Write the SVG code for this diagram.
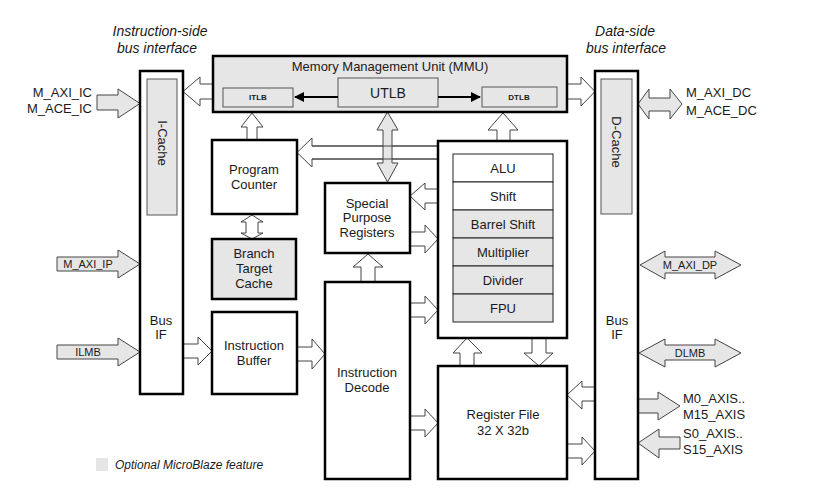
<svg xmlns="http://www.w3.org/2000/svg" width="832" height="494" viewBox="0 0 832 494">
<defs>
<style>
.box{fill:#fff;stroke:#000;stroke-width:2.5}
.gbox{fill:#e6e6e6;stroke:#000;stroke-width:2.5}
.inner{fill:#e6e6e6;stroke:#555;stroke-width:1}
.row{fill:#fff;stroke:#222;stroke-width:1}
.rowg{fill:#e6e6e6;stroke:#222;stroke-width:1}
.ha{fill:#fff;stroke:#444;stroke-width:1}
.ga{fill:#e6e6e6;stroke:#444;stroke-width:1}
text{font-family:"Liberation Sans",Arial,sans-serif;fill:#1a1a1a}
.t{font-size:13px;text-anchor:middle}
.s{font-size:11px}
.h{font-size:14px;font-style:italic;text-anchor:middle}
.b{font-size:8px;font-weight:bold;text-anchor:middle}
</style>
<marker id="ah" viewBox="0 0 10 10" refX="9" refY="5" markerWidth="5" markerHeight="5" orient="auto-start-reverse">
<path d="M0,0 L10,5 L0,10 z" fill="#000"/>
</marker>
</defs>
<rect width="832" height="494" fill="#fff"/>

<text class="h" x="160" y="36">Instruction-side</text>
<text class="h" x="157" y="53">bus interface</text>
<text class="h" x="625" y="36">Data-side</text>
<text class="h" x="626" y="53">bus interface</text>

<g id="connectors">
<polygon class="ha" points="213,84 200,84 200,77 183,91.5 200,106 200,99 213,99"/>
<polygon class="ga" points="97,95 118,95 118,89 140,103.5 118,118 118,110 97,110"/>
<polygon class="ha" points="247,140 247,127 241,127 252,113 263,127 257,127 257,140"/>
<polygon class="ha" points="497,141 497,130 488,130 503,113 518,130 510,130 510,141"/>
<polygon class="ha" points="438,146 312,146 312,138 297,152.5 312,167 312,159 438,159"/>
<polygon class="ga" points="383,130 377,130 387.5,112 398,130 392,130 392,163 398,163 387.5,182 377,163 383,163"/>
<line x1="312" y1="146" x2="438" y2="146" stroke="#444" stroke-width="1"/>
<line x1="312" y1="159" x2="438" y2="159" stroke="#444" stroke-width="1"/>
<polygon class="ha" points="246,222 241,222 252,215 263,222 258,222 258,233 263,233 252,239 241,233 246,233"/>
<polygon class="ha" points="183,344 198,344 198,337 212,351 198,365 198,358 183,358"/>
<polygon class="ga" points="57,257 118,257 118,250 140,264 118,278 118,271 57,271"/>
<polygon class="ga" points="57,345 118,345 118,338 140,352 118,366 118,359 57,359"/>
<polygon class="ha" points="297,347 312,347 312,339 325,354 312,369 312,361 297,361"/>
<polygon class="ha" points="438,189 425,189 425,183 410,196 425,210 425,203 438,203"/>
<polygon class="ha" points="410,232 425,232 425,225 438,239 425,253 425,246 410,246"/>
<polygon class="ha" points="361,282 361,267 353,267 368,254 383,267 375,267 375,282"/>
<polygon class="ha" points="410,303 425,303 425,296 438,310 425,324 425,317 410,317"/>
<polygon class="ha" points="410,416 425,416 425,409 438,423 425,437 425,430 410,430"/>
<polygon class="ha" points="460,366 460,353 453,353 467,338 482,353 474,353 474,366"/>
<polygon class="ha" points="532,338 532,353 524,353 539,366 553,353 546,353 546,338"/>
<polygon class="ha" points="595,387 582,387 582,381 567,395 582,409 582,401 595,401"/>
<polygon class="ha" points="567,444 582,444 582,437 595,451 582,465 582,458 567,458"/>
<polygon class="ha" points="567,84 581,84 581,77 595,91.5 581,106 581,99 567,99"/>
<polygon class="ga" points="649,98 670,98 670,89 682,104 670,119 670,111 649,111 649,119 638,104 649,89"/>
<polygon class="ga" points="665,257 715,257 715,251 741,265 715,279 715,273 665,273 665,279 640,265 665,251"/>
<polygon class="ga" points="665,345 715,345 715,339 741,353 715,367 715,360 665,360 665,367 639,353 665,339"/>
<polygon class="ga" points="638,399 658,399 658,392 680,406 658,420 658,413 638,413"/>
<polygon class="ga" points="680,437 659,437 659,429 638,443 659,458 659,449 680,449"/>
</g>

<g id="mmu">
<rect class="gbox" x="213" y="56" width="354" height="56"/>
<text class="t" x="390" y="71">Memory Management Unit (MMU)</text>
<rect class="inner" x="223" y="88" width="70" height="19"/>
<text class="b" x="258" y="100">ITLB</text>
<rect class="inner" x="338" y="78" width="100" height="29"/>
<text class="t" x="388" y="98" style="font-size:14px">UTLB</text>
<rect class="inner" x="482" y="87" width="75" height="20"/>
<text class="b" x="519" y="100">DTLB</text>
<line x1="338" y1="97" x2="295" y2="97" stroke="#000" stroke-width="2" marker-end="url(#ah)"/>
<line x1="438" y1="97" x2="480" y2="97" stroke="#000" stroke-width="2" marker-end="url(#ah)"/>
</g>

<g id="ibus">
<rect class="box" x="140" y="71" width="43" height="323"/>
<rect class="inner" x="147" y="79" width="30" height="136"/>
<text class="t" transform="translate(158,143) rotate(90)">I-Cache</text>
<text class="t" x="161" y="325">Bus</text>
<text class="t" x="161" y="339">IF</text>
</g>

<g id="dbus">
<rect class="box" x="595" y="71" width="43" height="408"/>
<rect class="inner" x="601" y="79" width="31" height="135"/>
<text class="t" transform="translate(612,142) rotate(90)">D-Cache</text>
<text class="t" x="617" y="325">Bus</text>
<text class="t" x="617" y="339">IF</text>
</g>

<g id="pc">
<rect class="box" x="212" y="140" width="85" height="74"/>
<text class="t" x="254" y="174">Program</text>
<text class="t" x="254" y="189">Counter</text>
</g>

<g id="btc">
<rect class="gbox" x="212" y="239" width="84" height="60"/>
<text class="t" x="254" y="258">Branch</text>
<text class="t" x="254" y="273">Target</text>
<text class="t" x="254" y="288">Cache</text>
</g>

<g id="ib">
<rect class="box" x="212" y="312" width="85" height="82"/>
<text class="t" x="254" y="350">Instruction</text>
<text class="t" x="254" y="365">Buffer</text>
</g>

<g id="spr">
<rect class="box" x="325" y="183" width="85" height="70"/>
<text class="t" x="367" y="208">Special</text>
<text class="t" x="367" y="222">Purpose</text>
<text class="t" x="367" y="237">Registers</text>
</g>

<g id="id">
<rect class="box" x="325" y="282" width="85" height="197"/>
<text class="t" x="367" y="377">Instruction</text>
<text class="t" x="367" y="392">Decode</text>
</g>

<g id="exec">
<rect class="box" x="438" y="141" width="129" height="197"/>
<rect class="row" x="453" y="154" width="100" height="28"/>
<rect class="row" x="453" y="182" width="100" height="28"/>
<rect class="rowg" x="453" y="210" width="100" height="28"/>
<rect class="rowg" x="453" y="238" width="100" height="28"/>
<rect class="rowg" x="453" y="266" width="100" height="28"/>
<rect class="rowg" x="453" y="294" width="100" height="28"/>
<text class="t" x="503" y="173">ALU</text>
<text class="t" x="503" y="201">Shift</text>
<text class="t" x="503" y="229">Barrel Shift</text>
<text class="t" x="503" y="257">Multiplier</text>
<text class="t" x="503" y="285">Divider</text>
<text class="t" x="503" y="313">FPU</text>
</g>

<g id="rf">
<rect class="box" x="438" y="366" width="129" height="113"/>
<text class="t" x="503" y="419">Register File</text>
<text class="t" x="503" y="435">32 X 32b</text>
</g>

<g id="labels">
<text class="t" x="92" y="97" style="text-anchor:end">M_AXI_IC</text>
<text class="t" x="92" y="113" style="text-anchor:end">M_ACE_IC</text>
<text class="s" x="88" y="268" style="text-anchor:middle">M_AXI_IP</text>
<text class="s" x="88" y="356" style="text-anchor:middle">ILMB</text>
<text class="t" x="686" y="97" style="text-anchor:start">M_AXI_DC</text>
<text class="t" x="686" y="115" style="text-anchor:start">M_ACE_DC</text>
<text class="s" x="690" y="269" style="text-anchor:middle">M_AXI_DP</text>
<text class="s" x="690" y="357" style="text-anchor:middle">DLMB</text>
<text class="t" x="683" y="403" style="text-anchor:start">M0_AXIS..</text>
<text class="t" x="683" y="419" style="text-anchor:start">M15_AXIS</text>
<text class="t" x="683" y="438" style="text-anchor:start">S0_AXIS..</text>
<text class="t" x="683" y="454" style="text-anchor:start">S15_AXIS</text>
</g>

<g id="legend">
<rect x="96" y="458" width="12" height="13" fill="#e6e6e6"/>
<text x="115" y="469" style="font-size:12px;font-style:italic">Optional MicroBlaze feature</text>
</g>
</svg>
